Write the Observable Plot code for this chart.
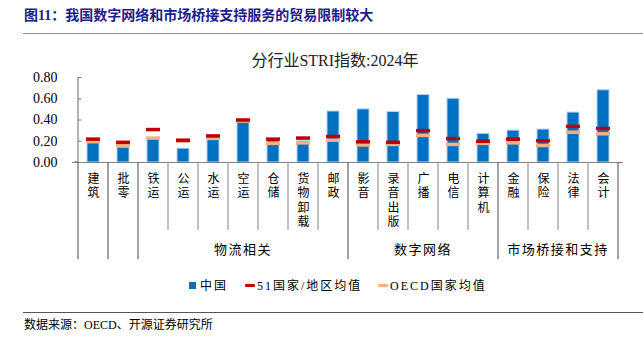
<!DOCTYPE html>
<html><head><meta charset="utf-8">
<script src="https://cdn.jsdelivr.net/npm/d3@7"></script>
<script src="https://cdn.jsdelivr.net/npm/@observablehq/plot@0.6"></script>
<style>
body{margin:0;width:643px;height:341px;background:#fff;position:relative;overflow:hidden;font-family:'Liberation Serif','Noto Sans CJK SC',serif;color:#000;}
.abs{position:absolute;white-space:nowrap;}
.leg{position:absolute;white-space:nowrap;font-size:12px;letter-spacing:2px;line-height:16px;top:278px;}
.sw{position:absolute;}
</style></head><body>
<div class="abs" style="left:24px;top:7px;font-size:14px;font-weight:bold;color:#1d2088;line-height:18px;">图11：我国数字网络和市场桥接支持服务的贸易限制较大</div>
<div class="abs" style="left:23px;right:0;top:33px;border-top:1.5px solid #8c8c8c;"></div>
<div class="abs" style="left:0;width:670px;text-align:center;top:51px;font-size:16px;color:#222;line-height:20px;">分行业STRI指数:2024年</div>
<div id="chart" class="abs" style="left:0;top:70px;"></div>
<div id="legend"></div>
<div class="abs" style="left:23px;right:0;top:312px;border-top:1px solid #555;"></div>
<div class="abs" style="left:24px;top:317px;font-size:12px;line-height:16px;">数据来源：OECD、开源证券研究所</div>
<script>
const categories = ["建筑","批零","铁运","公运","水运","空运","仓储","货物卸载","邮政","影音","录音出版","广播","电信","计算机","金融","保险","法律","会计"];
const china = [0.18,0.14,0.23,0.13,0.21,0.40,0.21,0.20,0.48,0.50,0.475,0.635,0.60,0.27,0.30,0.31,0.47,0.68];
const avg51 = [0.22,0.19,0.31,0.21,0.25,0.40,0.22,0.23,0.245,0.195,0.19,0.30,0.225,0.20,0.22,0.205,0.34,0.32];
const oecd  = [0.20,0.16,0.23,0.20,0.23,0.39,0.18,0.185,0.21,0.165,0.17,0.255,0.17,0.18,0.185,0.16,0.285,0.27];
const seriesNames = ["中国","51国家/地区均值","OECD国家均值"];
const seriesColors = ["#0070C0","#C00000","#F4B183"];
const yTicks = [0,0.2,0.4,0.6,0.8];
const groupNames = ["物流相关","数字网络","市场桥接和支持"];
const groupStart = [2,9,14];
const groupEnd = [8,13,17];
const fullBoundaries = [0,1,2,9,14,18];

const rows = categories.map((c,i)=>({cat:c, china:china[i], avg51:avg51[i], oecd:oecd[i]}));
const W=643, ML=72, MR=20, MT=7, PH=85, MB=108, H=MT+PH+MB;
const n = categories.length;
const bw = (W-ML-MR)/n;
const font = "'Liberation Serif','Noto Sans CJK SC',serif";

const plot = Plot.plot({
  width: W, height: H, marginLeft: ML, marginRight: MR, marginTop: MT, marginBottom: MB,
  style: {fontFamily: font, fontSize: "12px", background: "transparent", color: "#000", overflow: "visible"},
  x: {type: "band", domain: categories, padding: 0},
  y: {domain: [0, 0.8]},
  marks: [
    Plot.barY(rows, {x: "cat", y: "china", fill: seriesColors[0], stroke: "#B4D3EF", strokeWidth: 1, insetLeft: 9, insetRight: 9}),
    Plot.tickY(rows, {x: "cat", y: "oecd", stroke: seriesColors[2], strokeWidth: 3.5, insetLeft: 8, insetRight: 8}),
    Plot.tickY(rows, {x: "cat", y: "avg51", stroke: seriesColors[1], strokeWidth: 3.5, insetLeft: 8, insetRight: 8}),
    Plot.ruleY([0], {stroke: "#808080", strokeWidth: 1.2}),
    Plot.tickY(yTicks, {x: () => categories[0], y: d => d, insetRight: bw - 4, stroke: "#808080"}),
    Plot.axisX({tickSize: 0, tickPadding: 10, fontSize: 12, lineHeight: 1.2, lineAnchor: "top", tickFormat: d => d.split("").join("\n"), label: null}),
    Plot.axisY({ticks: yTicks, tickSize: 0, tickPadding: 15, fontSize: 14, tickFormat: d => d.toFixed(2), label: null})
  ]
});
document.getElementById("chart").appendChild(plot);

// separators, y-axis line and group labels placed through the plot's own scales
const xs = plot.scale("x"), ys = plot.scale("y");
const band = xs.bandwidth;
const y0 = ys.apply(0), yTop = ys.apply(0.8);
const svg = d3.select(plot);
const edge = i => i < n ? xs.apply(categories[i]) : xs.apply(categories[n-1]) + band;
svg.append("line").attr("x1", edge(0)).attr("x2", edge(0)).attr("y1", yTop).attr("y2", y0)
  .attr("stroke", "#808080").attr("stroke-width", 1.2);
svg.append("line").attr("x1", edge(0) - 4).attr("x2", edge(0)).attr("y1", y0).attr("y2", y0)
  .attr("stroke", "#808080").attr("stroke-width", 1.2);
d3.range(n+1).forEach(i => {
  const full = fullBoundaries.includes(i);
  svg.append("line").attr("x1", edge(i)).attr("x2", edge(i)).attr("y1", y0).attr("y2", y0 + (full ? 97 : 68))
    .attr("stroke", full ? "#666" : "#999").attr("stroke-width", 1.2);
});
groupNames.forEach((g,k) => {
  const cx = (edge(groupStart[k]) + edge(groupEnd[k]+1)) / 2;
  svg.append("text").attr("x", cx).attr("y", y0 + 87).attr("dy", "0.35em")
    .attr("text-anchor", "middle").attr("font-size", 13).attr("letter-spacing", "1.5px")
    .attr("fill", "#000").text(g);
});

// legend
const leg = document.getElementById("legend");
const legX = [189, 245, 378];
seriesNames.forEach((s,k) => {
  const sw = document.createElement("div");
  sw.className = "sw";
  if (k === 0) { sw.style.cssText = `left:${legX[k]}px;top:282px;width:7px;height:7px;background:${seriesColors[k]};`; }
  else { sw.style.cssText = `left:${legX[k]}px;top:284px;width:10px;height:3px;background:${seriesColors[k]};border-radius:1px;`; }
  leg.appendChild(sw);
  const t = document.createElement("div");
  t.className = "leg";
  t.style.left = (legX[k] + (k === 0 ? 11 : 12)) + "px";
  t.textContent = s;
  leg.appendChild(t);
});
</script>
</body></html>
